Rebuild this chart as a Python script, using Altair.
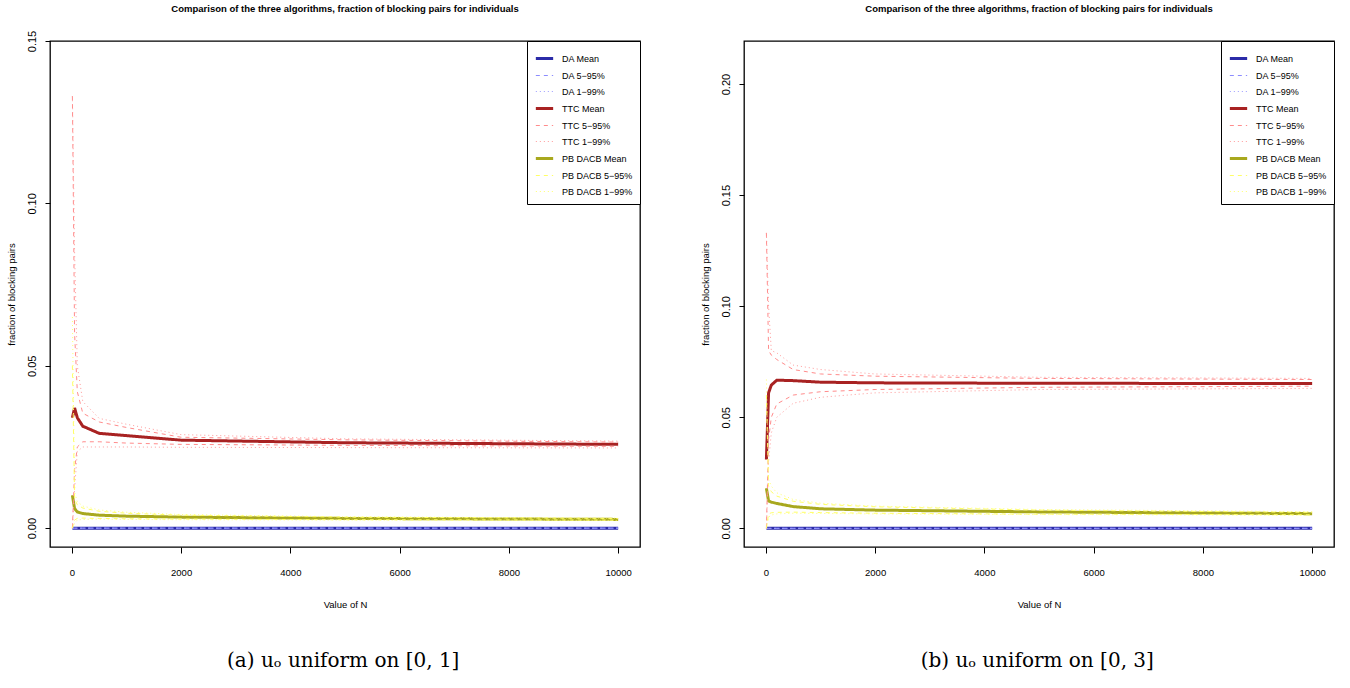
import altair as alt
import pandas as pd

# ---------------- data ----------------
N = [10, 50, 100, 200, 500, 1000, 2000, 5000, 10000]

SERIES = ["DA Mean", "DA 5−95%", "DA 1−99%",
          "TTC Mean", "TTC 5−95%", "TTC 1−99%",
          "PB DACB Mean", "PB DACB 5−95%", "PB DACB 1−99%"]

# Panel (a): u_o uniform on [0,1]
a_da_mean = [0.0, 0.0, 0.0, 0.0, 0.0, 0.0, 0.0, 0.0, 0.0]
a_da_q95u = [0.0, 0.0, 0.0, 0.0, 0.0, 0.0, 0.0, 0.0, 0.0]
a_da_q05l = [0.0, 0.0, 0.0, 0.0, 0.0, 0.0, 0.0, 0.0, 0.0]
a_da_q99u = [0.0, 0.0, 0.0, 0.0, 0.0, 0.0, 0.0, 0.0, 0.0]
a_da_q01l = [0.0, 0.0, 0.0, 0.0, 0.0, 0.0, 0.0, 0.0, 0.0]
a_ttc_mean = [0.034, 0.037, 0.034, 0.0314, 0.0292, 0.0285, 0.0271, 0.0263, 0.0258]
a_ttc_q95u = [0.133, 0.060, 0.042, 0.0354, 0.0327, 0.031, 0.028, 0.0272, 0.0265]
a_ttc_q99u = [0.133, 0.085, 0.050, 0.039, 0.0338, 0.032, 0.0288, 0.0275, 0.0268]
a_ttc_q05l = [0.0, 0.018, 0.025, 0.0266, 0.0266, 0.0262, 0.0258, 0.0255, 0.0252]
a_ttc_q01l = [0.0, 0.012, 0.0236, 0.025, 0.025, 0.025, 0.0249, 0.0248, 0.0247]
a_dacb_mean = [0.0101, 0.0060, 0.0050, 0.0045, 0.0040, 0.0037, 0.0034, 0.0030, 0.0027]
a_dacb_q95u = [0.050, 0.009, 0.0072, 0.0062, 0.0052, 0.0046, 0.0040, 0.0034, 0.0030]
a_dacb_q99u = [0.065, 0.011, 0.0082, 0.0068, 0.0056, 0.0049, 0.0042, 0.0035, 0.0031]
a_dacb_q05l = [0.0, 0.0025, 0.0030, 0.0031, 0.0030, 0.0029, 0.0028, 0.0026, 0.0025]
a_dacb_q01l = [0.0, 0.0015, 0.0025, 0.0027, 0.0028, 0.0027, 0.0026, 0.0025, 0.0024]

# Panel (b): u_o uniform on [0,3]
b_da_mean = [0.0, 0.0, 0.0, 0.0, 0.0, 0.0, 0.0, 0.0, 0.0]
b_da_q95u = [0.0, 0.0, 0.0, 0.0, 0.0, 0.0, 0.0, 0.0, 0.0]
b_da_q05l = [0.0, 0.0, 0.0, 0.0, 0.0, 0.0, 0.0, 0.0, 0.0]
b_da_q99u = [0.0, 0.0, 0.0, 0.0, 0.0, 0.0, 0.0, 0.0, 0.0]
b_da_q01l = [0.0, 0.0, 0.0, 0.0, 0.0, 0.0, 0.0, 0.0, 0.0]
b_ttc_mean = [0.031, 0.061, 0.0645, 0.0667, 0.0665, 0.0658, 0.0655, 0.0653, 0.0652]
b_ttc_q95u = [0.133, 0.080, 0.078, 0.076, 0.0715, 0.0695, 0.0685, 0.0675, 0.067]
b_ttc_q99u = [0.133, 0.100, 0.080, 0.079, 0.0735, 0.0715, 0.0695, 0.068, 0.0675]
b_ttc_q05l = [0.0, 0.040, 0.050, 0.056, 0.060, 0.0615, 0.0625, 0.0635, 0.064]
b_ttc_q01l = [0.0, 0.030, 0.043, 0.050, 0.0563, 0.059, 0.061, 0.0625, 0.063]
b_dacb_mean = [0.018, 0.0123, 0.0118, 0.0112, 0.0098, 0.0088, 0.0082, 0.0074, 0.0066]
b_dacb_q95u = [0.060, 0.019, 0.0165, 0.0145, 0.0122, 0.0108, 0.0097, 0.0082, 0.0072]
b_dacb_q99u = [0.067, 0.022, 0.019, 0.016, 0.013, 0.0113, 0.0100, 0.0085, 0.0075]
b_dacb_q05l = [0.0, 0.0065, 0.0070, 0.0072, 0.0073, 0.0071, 0.0068, 0.0064, 0.0061]
b_dacb_q01l = [0.0, 0.0050, 0.0060, 0.0065, 0.0068, 0.0067, 0.0065, 0.0062, 0.0059]

X_TICKS = [0, 2000, 4000, 6000, 8000, 10000]
A_Y_TICKS = [0.0, 0.05, 0.10, 0.15]
B_Y_TICKS = [0.0, 0.05, 0.10, 0.15, 0.20]

TITLE = "Comparison of the three algorithms, fraction of blocking pairs for individuals"
CAP_A = "(a) uₒ uniform on [0, 1]"
CAP_B = "(b) uₒ uniform on [0, 3]"

# ---------------- styles ----------------
COLORS = ["#2B2BA8", "#8C8CFF", "#9C9CFF",
          "#A82222", "#FF8C8C", "#FF9A9A",
          "#A8A81E", "#FFFF66", "#FFFF70"]
DASHES = [[1, 0], [4, 4], [1, 3],
          [1, 0], [4, 4], [1, 3],
          [1, 0], [4, 4], [1, 3]]
WIDTHS = [3, 1, 1, 3, 1, 1, 3, 1, 1]

FONT = "Liberation Sans"


def build_df(parts):
    rows = []
    for series, part, vals in parts:
        for n, v in zip(N, vals):
            rows.append({"series": series, "line": series + " " + part,
                         "kind": "mean" if part == "mid" else "q",
                         "N": n, "value": v})
    return pd.DataFrame(rows)


df_a = build_df([
    ("DA Mean", "mid", a_da_mean),
    ("DA 5−95%", "upper", a_da_q95u), ("DA 5−95%", "lower", a_da_q05l),
    ("DA 1−99%", "upper", a_da_q99u), ("DA 1−99%", "lower", a_da_q01l),
    ("TTC Mean", "mid", a_ttc_mean),
    ("TTC 5−95%", "upper", a_ttc_q95u), ("TTC 5−95%", "lower", a_ttc_q05l),
    ("TTC 1−99%", "upper", a_ttc_q99u), ("TTC 1−99%", "lower", a_ttc_q01l),
    ("PB DACB Mean", "mid", a_dacb_mean),
    ("PB DACB 5−95%", "upper", a_dacb_q95u), ("PB DACB 5−95%", "lower", a_dacb_q05l),
    ("PB DACB 1−99%", "upper", a_dacb_q99u), ("PB DACB 1−99%", "lower", a_dacb_q01l),
])
df_b = build_df([
    ("DA Mean", "mid", b_da_mean),
    ("DA 5−95%", "upper", b_da_q95u), ("DA 5−95%", "lower", b_da_q05l),
    ("DA 1−99%", "upper", b_da_q99u), ("DA 1−99%", "lower", b_da_q01l),
    ("TTC Mean", "mid", b_ttc_mean),
    ("TTC 5−95%", "upper", b_ttc_q95u), ("TTC 5−95%", "lower", b_ttc_q05l),
    ("TTC 1−99%", "upper", b_ttc_q99u), ("TTC 1−99%", "lower", b_ttc_q01l),
    ("PB DACB Mean", "mid", b_dacb_mean),
    ("PB DACB 5−95%", "upper", b_dacb_q95u), ("PB DACB 5−95%", "lower", b_dacb_q05l),
    ("PB DACB 1−99%", "upper", b_dacb_q99u), ("PB DACB 1−99%", "lower", b_dacb_q01l),
])

IND = dict(color="independent", strokeDash="independent", strokeWidth="independent")


def panel(df, ydomain, yticks, caption, title_offset):
    leg = alt.Legend(title=None, orient="top-right", offset=0, padding=7,
                     strokeColor="black", fillColor="white", cornerRadius=0,
                     symbolType="stroke", symbolSize=300, rowPadding=1,
                     labelFontSize=9, labelFont=FONT, labelOffset=7,
                     labelColor="black")
    x = alt.X("N:Q", scale=alt.Scale(domain=[-400, 10400], nice=False, zero=False),
              axis=alt.Axis(values=X_TICKS, format="d", title="Value of N",
                            grid=False, domain=False, tickSize=6, tickColor="black",
                            labelFontSize=9.5, labelFont=FONT, labelPadding=14,
                            labelColor="black", titleFont=FONT,
                            titleFontSize=9.5, titleFontWeight="normal",
                            titlePadding=23, titleColor="black"))
    y = alt.Y("value:Q", scale=alt.Scale(domain=ydomain, nice=False, zero=False),
              axis=alt.Axis(values=yticks, format=".2f",
                            title="fraction of blocking pairs",
                            grid=False, domain=False, tickSize=5, tickColor="black",
                            labelAngle=270, labelAlign="center", labelBaseline="bottom",
                            labelFontSize=11, labelFont=FONT, labelPadding=8,
                            labelColor="black", titleFont=FONT,
                            titleFontSize=9.5, titleFontWeight="normal",
                            titlePadding=10, titleColor="black"))
    enc = dict(
        x=x, y=y,
        color=alt.Color("series:N", scale=alt.Scale(domain=SERIES, range=COLORS), legend=leg),
        strokeDash=alt.StrokeDash("series:N", scale=alt.Scale(domain=SERIES, range=DASHES), legend=leg),
        strokeWidth=alt.StrokeWidth("series:N", scale=alt.Scale(type="ordinal", domain=SERIES, range=WIDTHS), legend=leg),
        detail="line:N",
    )
    base = alt.Chart(df)
    means = base.transform_filter(alt.datum.kind == "mean").mark_line().encode(**enc)
    quants = base.transform_filter(alt.datum.kind == "q").mark_line().encode(**enc)
    layer = alt.layer(means, quants).properties(
        width=590, height=506,
        title=alt.TitleParams(TITLE, fontSize=9.5, fontWeight="bold", font=FONT,
                              anchor="middle", offset=title_offset, frame="group",
                              color="black"),
    )
    return alt.vconcat(layer, title=alt.TitleParams(
        caption, orient="bottom", fontSize=20, font="DejaVu Serif",
        fontWeight="normal", anchor="middle", offset=41, dx=20, color="black",
    )).resolve_scale(**IND).resolve_legend(**IND)


pa = panel(df_a, [-0.0058, 0.15], A_Y_TICKS, CAP_A, 17)
pb = panel(df_b, [-0.0084, 0.2194], B_Y_TICKS, CAP_B, 27)

chart = alt.hconcat(pa, pb, spacing=57).resolve_scale(**IND).resolve_legend(**IND).properties(
    padding={"left": 5, "top": 3, "right": 5, "bottom": 5}
).configure(font=FONT, background="white").configure_view(stroke="black", strokeWidth=1.3)

chart.save("out.html", embed_options={"renderer": "svg", "actions": False})
